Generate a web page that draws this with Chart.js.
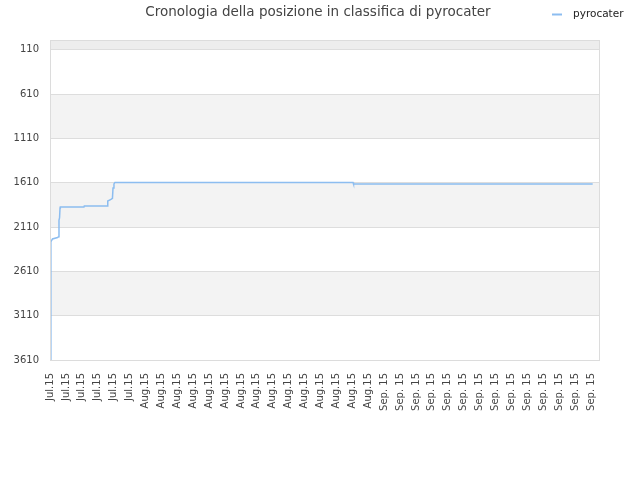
<!DOCTYPE html>
<html>
<head>
<meta charset="utf-8">
<script src="https://cdn.jsdelivr.net/npm/chart.js@4/dist/chart.umd.min.js"></script>
<style>
  html, body { margin: 0; padding: 0; background: #fff; }
  #wrap { width: 640px; height: 480px; }
</style>
</head>
<body>
<div id="wrap"><canvas id="rankChart" width="640" height="480"></canvas></div>
<script>
// chart text
const chartTitle = 'Cronologia della posizione in classifica di pyrocater';
const seriesName = 'pyrocater';

// x tick labels (one every 2 days)
const tickLabels = [
  'Jul.15', 'Jul.15', 'Jul.15', 'Jul.15', 'Jul.15', 'Jul.15',
  'Aug.15', 'Aug.15', 'Aug.15', 'Aug.15', 'Aug.15', 'Aug.15', 'Aug.15', 'Aug.15',
  'Aug.15', 'Aug.15', 'Aug.15', 'Aug.15', 'Aug.15', 'Aug.15', 'Aug.15',
  'Sep. 15', 'Sep. 15', 'Sep. 15', 'Sep. 15', 'Sep. 15', 'Sep. 15', 'Sep. 15',
  'Sep. 15', 'Sep. 15', 'Sep. 15', 'Sep. 15', 'Sep. 15', 'Sep. 15', 'Sep. 15'
];

// y ticks (rank, reversed axis)
const rankTicks = [110, 610, 1110, 1610, 2110, 2610, 3110, 3610];

// series: days since start / ranking position
const days = [0.08, 0.11, 0.19, 0.31, 0.95, 1.1, 1.13, 1.2, 1.26, 1.3, 4.27, 4.31,
  7.23, 7.26, 7.66, 7.85, 7.92, 8.04, 8.16, 38.09, 38.15, 68.21];
const ranks = [3610, 2279, 2262, 2245, 2228, 2219, 2031, 2008, 1895, 1884, 1884, 1873,
  1873, 1816, 1799, 1786, 1669, 1624, 1607, 1607, 1624, 1624];

const lineColor = '#8cbdf0';
const fontFamily = '"DejaVu Sans", sans-serif';

// alternating bands, border, title and legend
const decorPlugin = {
  id: 'decor',
  beforeDraw(chart) {
    const ctx = chart.ctx;
    const area = chart.chartArea;
    const y = chart.scales.y;
    const edges = [y.min].concat(rankTicks);
    ctx.save();
    for (let i = 0; i < edges.length - 1; i++) {
      if (i % 2 !== 0) continue;
      const top = y.getPixelForValue(edges[i]);
      const bottom = y.getPixelForValue(edges[i + 1]);
      ctx.fillStyle = i === 0 ? '#ededed' : '#f3f3f3';
      ctx.fillRect(area.left, top, area.right - area.left, bottom - top);
    }
    ctx.restore();
  },
  afterDraw(chart) {
    const ctx = chart.ctx;
    const area = chart.chartArea;
    ctx.save();
    ctx.strokeStyle = '#dcdcdc';
    ctx.lineWidth = 1;
    ctx.strokeRect(area.left + 0.5, area.top + 0.5, area.right - area.left - 1, area.bottom - area.top);

    ctx.fillStyle = '#444';
    ctx.font = '13.5px ' + fontFamily;
    ctx.textAlign = 'center';
    ctx.textBaseline = 'middle';
    ctx.fillText(chartTitle, 318, 12);

    ctx.strokeStyle = lineColor;
    ctx.lineWidth = 2;
    ctx.beginPath();
    ctx.moveTo(552, 14.5);
    ctx.lineTo(562, 14.5);
    ctx.stroke();
    ctx.fillStyle = '#222';
    ctx.font = '10.5px ' + fontFamily;
    ctx.textAlign = 'left';
    ctx.fillText(seriesName, 573, 14);
    ctx.restore();
  }
};

const ctx = document.getElementById('rankChart').getContext('2d');
new Chart(ctx, {
  type: 'line',
  data: {
    datasets: [{
      label: seriesName,
      data: days.map((d, i) => ({ x: d, y: ranks[i] })),
      borderColor: lineColor,
      borderWidth: 1.5,
      pointRadius: 0,
      tension: 0,
      fill: false
    }]
  },
  options: {
    responsive: false,
    animation: false,
    layout: { padding: { top: 40, right: 40, left: 0, bottom: 0 } },
    plugins: {
      legend: { display: false },
      title: { display: false },
      tooltip: { enabled: false }
    },
    scales: {
      x: {
        type: 'linear',
        min: 0,
        max: 69.13,
        afterFit(scale) { scale.height = 120; },
        afterBuildTicks(scale) {
          scale.ticks = tickLabels.map((_, i) => ({ value: i * 2 }));
        },
        grid: { display: false, drawTicks: false },
        border: { display: false },
        ticks: {
          autoSkip: false,
          maxRotation: 90,
          minRotation: 90,
          padding: 13,
          color: '#444',
          font: { family: fontFamily, size: 10 },
          callback: (value) => tickLabels[Math.round(value / 2)]
        }
      },
      y: {
        type: 'linear',
        reverse: true,
        min: 0,
        max: 3610,
        afterFit(scale) { scale.width = 50; },
        afterBuildTicks(scale) {
          scale.ticks = rankTicks.map(v => ({ value: v }));
        },
        grid: { color: '#dddddd', drawTicks: false },
        border: { display: false },
        ticks: {
          padding: 11,
          color: '#444',
          font: { family: fontFamily, size: 10 },
          callback: (value) => String(value)
        }
      }
    }
  },
  plugins: [decorPlugin]
});
</script>
</body>
</html>
